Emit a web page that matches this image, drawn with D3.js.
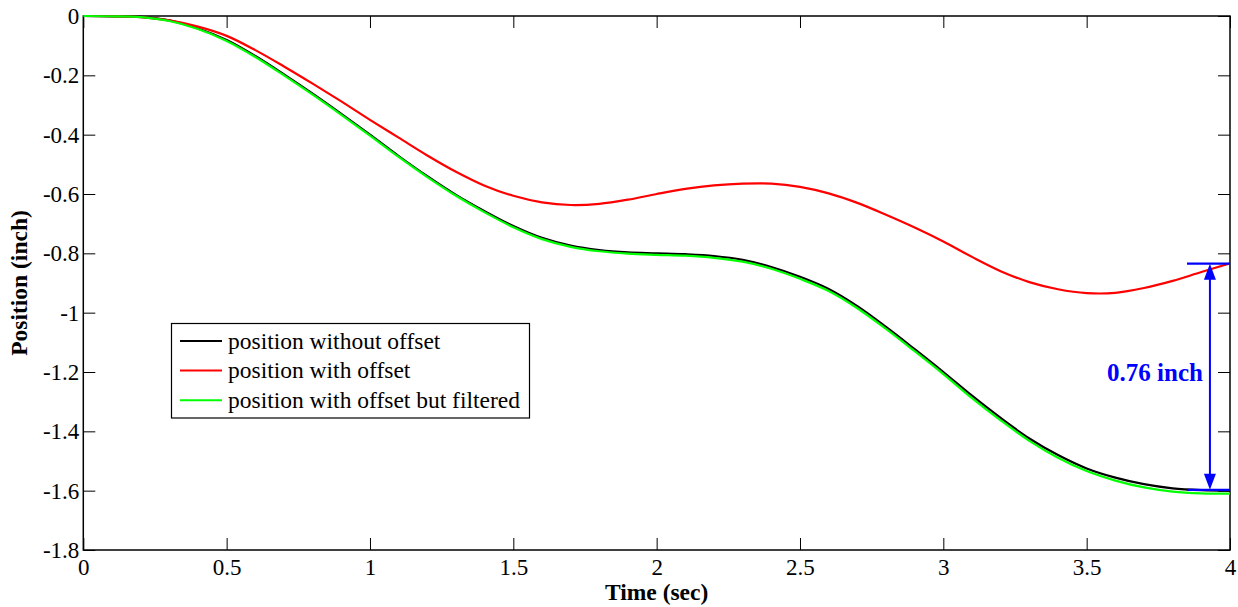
<!DOCTYPE html>
<html>
<head>
<meta charset="utf-8">
<script src="https://cdn.jsdelivr.net/npm/d3@7"></script>
<style>
  html, body { margin: 0; padding: 0; background: #fff; }
  svg { display: block; }
  text { font-family: "Liberation Serif", "Times New Roman", serif; }
</style>
</head>
<body>
<svg id="chart" width="1238" height="607"></svg>
<script>
// ---- Data ----
const time = [0, 0.1, 0.2, 0.3, 0.4, 0.5, 0.6, 0.7, 0.8, 0.9, 1.0, 1.1, 1.2, 1.3, 1.4, 1.5, 1.6, 1.7, 1.8, 1.9, 2.0,
              2.1, 2.2, 2.3, 2.4, 2.5, 2.6, 2.7, 2.8, 2.9, 3.0, 3.1, 3.2, 3.3, 3.4, 3.5, 3.6, 3.7, 3.8, 3.9, 4.0];
const posWithoutOffset = [0, -0.001, -0.003, -0.015, -0.042, -0.081, -0.135, -0.197, -0.262, -0.33, -0.4, -0.472, -0.54, -0.603, -0.658, -0.708, -0.748, -0.774, -0.789, -0.797, -0.800,
              -0.803, -0.809, -0.822, -0.846, -0.879, -0.92, -0.978, -1.048, -1.123, -1.2, -1.28, -1.355, -1.424, -1.48, -1.525, -1.556, -1.578, -1.592, -1.598, -1.600];
const posWithOffset = [0, -0.001, -0.004, -0.015, -0.036, -0.067, -0.115, -0.17, -0.228, -0.288, -0.35, -0.41, -0.47, -0.525, -0.572, -0.606, -0.628, -0.637, -0.633, -0.619, -0.6,
              -0.583, -0.571, -0.565, -0.565, -0.576, -0.598, -0.63, -0.67, -0.713, -0.76, -0.812, -0.86, -0.897, -0.921, -0.934, -0.933, -0.917, -0.893, -0.863, -0.834];
const posFiltered = [0, -0.001, -0.004, -0.017, -0.044, -0.084, -0.138, -0.2, -0.265, -0.333, -0.403, -0.475, -0.543, -0.606, -0.662, -0.712, -0.752, -0.778, -0.793, -0.801, -0.805,
              -0.808, -0.815, -0.828, -0.852, -0.886, -0.927, -0.985, -1.055, -1.13, -1.207, -1.288, -1.363, -1.432, -1.489, -1.534, -1.566, -1.589, -1.603, -1.609, -1.610];

const xTicks = [0, 0.5, 1, 1.5, 2, 2.5, 3, 3.5, 4];
const yTicks = [0, -0.2, -0.4, -0.6, -0.8, -1, -1.2, -1.4, -1.6, -1.8];
const seriesNames = ["position without offset", "position with offset", "position with offset but filtered"];
const seriesColors = ["#000000", "#ff0000", "#00ff00"];
const annotationLabel = "0.76 inch";
const annotationTop = -0.835;
const annotationBottom = -1.597;
const annotationX = 3.93;
const annotationXStart = 3.85;

(function () {
const svg = d3.select("#chart");
const pL = 83.3, pR = 1230, pT = 16, pB = 550;
const x = d3.scaleLinear().domain([0, 4]).range([pL, pR]);
const y = d3.scaleLinear().domain([-1.8, 0]).range([pB, pT]);
const tickLen = 12;
const fontSize = 23;

const fmt = d => (d === 0 ? "0" : String(+d.toFixed(1)));
const gx = svg.append("g").attr("transform", `translate(0,${pB})`)
  .call(d3.axisBottom(x).tickValues(xTicks).tickSizeInner(-tickLen).tickSizeOuter(0).tickPadding(6).tickFormat(fmt));
const gxTop = svg.append("g").attr("transform", `translate(0,${pT})`)
  .call(d3.axisTop(x).tickValues(xTicks).tickSizeInner(-tickLen).tickSizeOuter(0).tickFormat(""));
const gy = svg.append("g").attr("transform", `translate(${pL},0)`)
  .call(d3.axisLeft(y).tickValues(yTicks).tickSizeInner(-tickLen).tickSizeOuter(0).tickPadding(4).tickFormat(fmt));
const gyRight = svg.append("g").attr("transform", `translate(${pR},0)`)
  .call(d3.axisRight(y).tickValues(yTicks).tickSizeInner(-tickLen).tickSizeOuter(0).tickFormat(""));

[gx, gxTop, gy, gyRight].forEach(g => {
  g.select(".domain").remove();
  g.selectAll(".tick line").attr("stroke", "#000").attr("stroke-width", 1);
  g.selectAll("text").attr("font-size", fontSize).attr("fill", "#000")
    .style("font-family", '"Liberation Serif", "Times New Roman", serif');
});
gx.selectAll("text").attr("y", 25).attr("dy", null);
gy.selectAll("text").attr("dy", "0.33em");

// frame
svg.append("rect").attr("x", pL).attr("y", pT).attr("width", pR - pL).attr("height", pB - pT)
  .attr("fill", "none").attr("stroke", "#000").attr("stroke-width", 1.5);

// axis labels
svg.append("text").attr("x", (pL + pR) / 2).attr("y", 600).attr("text-anchor", "middle")
  .attr("font-size", 23.5).attr("font-weight", "bold").text("Time (sec)");
svg.append("text").attr("transform", `translate(27,${(pT + pB) / 2}) rotate(-90)`)
  .attr("text-anchor", "middle").attr("font-size", 23.5).attr("font-weight", "bold").text("Position (inch)");

// lines
const line = d3.line().x(d => x(d[0])).y(d => y(d[1])).curve(d3.curveCatmullRom.alpha(0.5));
svg.append("clipPath").attr("id", "clip").append("rect")
  .attr("x", pL).attr("y", pT - 2).attr("width", pR - pL).attr("height", pB - pT + 4);
const plot = svg.append("g").attr("clip-path", "url(#clip)");

const series = [posWithoutOffset, posWithOffset, posFiltered];
series.forEach((vals, k) => {
  plot.append("path").datum(time.map((t, i) => [t, vals[i]]))
    .attr("fill", "none").attr("stroke", seriesColors[k]).attr("stroke-width", 2.2).attr("d", line);
});

// annotation
const blue = "#0000ff";
const ax = x(annotationX);
[annotationTop, annotationBottom].forEach(v => {
  svg.append("line").attr("x1", x(annotationXStart)).attr("x2", pR).attr("y1", y(v)).attr("y2", y(v))
    .attr("stroke", blue).attr("stroke-width", 2.2);
});
const yt = y(annotationTop), yb = y(annotationBottom);
svg.append("line").attr("x1", ax).attr("x2", ax).attr("y1", yt + 10).attr("y2", yb - 10)
  .attr("stroke", blue).attr("stroke-width", 2);
svg.append("path").attr("d", `M${ax},${yt} L${ax - 6},${yt + 16} L${ax + 6},${yt + 16} Z`).attr("fill", blue);
svg.append("path").attr("d", `M${ax},${yb} L${ax - 6},${yb - 16} L${ax + 6},${yb - 16} Z`).attr("fill", blue);
svg.append("text").attr("x", ax - 7).attr("y", (yt + yb) / 2 - 4).attr("dy", "0.35em")
  .attr("text-anchor", "end").attr("font-size", 25).attr("font-weight", "bold").attr("fill", blue)
  .text(annotationLabel);

// legend
const lg = svg.append("g");
lg.append("rect").attr("x", 171.5).attr("y", 323.5).attr("width", 358).attr("height", 94.5)
  .attr("fill", "#fff").attr("stroke", "#000").attr("stroke-width", 1.2);
[0, 1, 2].forEach((k, i) => {
  const ly = 341 + i * 29.6;
  lg.append("line").attr("x1", 180).attr("x2", 222).attr("y1", ly).attr("y2", ly)
    .attr("stroke", seriesColors[k]).attr("stroke-width", 2);
  lg.append("text").attr("x", 228).attr("y", ly).attr("dy", "0.33em").attr("font-size", 23.5)
    .text(seriesNames[k]);
});
})();
</script>
</body>
</html>
